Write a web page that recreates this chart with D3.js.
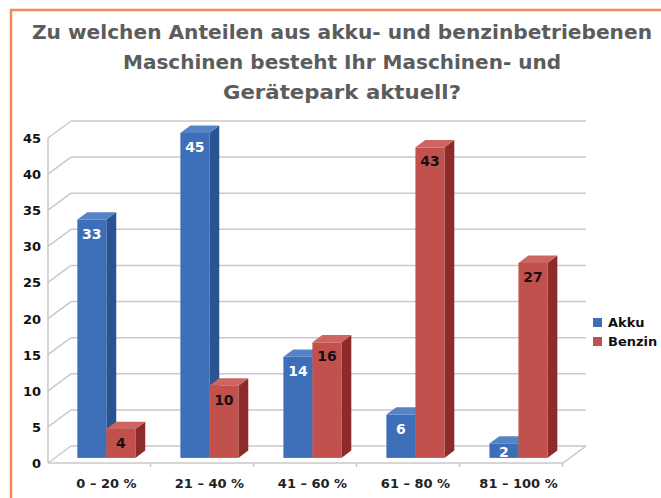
<!DOCTYPE html>
<html>
<head>
<meta charset="utf-8">
<script src="https://cdn.jsdelivr.net/npm/d3@7"></script>
<style>
  body { margin: 0; background: #fff; }
  svg { display: block; font-family: "DejaVu Sans", sans-serif; }
</style>
</head>
<body>
<svg id="chart" width="661" height="498"></svg>
<script>
const categories = ['0 – 20 %', '21 – 40 %', '41 – 60 %', '61 – 80 %', '81 – 100 %'];
const seriesNames = ['Akku', 'Benzin'];
const akku = [33, 45, 14, 6, 2];
const benzin = [4, 10, 16, 43, 27];
const yTicks = [0, 5, 10, 15, 20, 25, 30, 35, 40, 45];
const titleLines = [
  'Zu welchen Anteilen aus akku- und benzinbetriebenen',
  'Maschinen besteht Ihr Maschinen- und',
  'Gerätepark aktuell?'
];

const colors = {
  Akku: { front: '#3d6fb8', side: '#2b5391', top: '#5484c6', label: '#fff' },
  Benzin: { front: '#c2504d', side: '#8c2b29', top: '#cd6663', label: '#111' }
};

const svg = d3.select('#chart');

// orange frame
svg.append('rect')
  .attr('x', 11).attr('y', 10)
  .attr('width', 700).attr('height', 520)
  .attr('fill', '#fff')
  .attr('stroke', '#f08c5c')
  .attr('stroke-width', 2.5);

// title
const titleWidths = [620, 438, 238];
svg.append('g').selectAll('text')
  .data(titleLines)
  .join('text')
  .attr('x', 342)
  .attr('y', (d, i) => 39 + i * 30)
  .attr('text-anchor', 'middle')
  .attr('font-size', 19)
  .attr('font-weight', 'bold')
  .attr('fill', '#5c5c5c')
  .attr('textLength', (d, i) => titleWidths[i])
  .attr('lengthAdjust', 'spacingAndGlyphs')
  .text(d => d);

// plot geometry (oblique 3d)
const left = 48, right = 563, floorY = 463;
const depth = { dx: 23, dy: -17 };

const y = d3.scaleLinear().domain([0, 45]).range([0, 325]);
const x0 = d3.scaleBand().domain(categories).range([left, right])
  .paddingInner(0.437).paddingOuter(0.218);
const x1 = d3.scaleBand().domain(seriesNames).range([0, x0.bandwidth()]);

const grid = svg.append('g').attr('stroke', '#c9c9c9').attr('stroke-width', 1.5).attr('fill', 'none');

// back wall gridlines and left wall diagonals
yTicks.forEach(v => {
  const yf = floorY - y(v);
  const yb = yf + depth.dy;
  grid.append('line')
    .attr('x1', left + depth.dx).attr('y1', yb)
    .attr('x2', right + depth.dx).attr('y2', yb);
  grid.append('line')
    .attr('x1', left).attr('y1', yf)
    .attr('x2', left + depth.dx).attr('y2', yb);
});
// left axis
grid.append('line')
  .attr('x1', left).attr('y1', floorY)
  .attr('x2', left).attr('y2', floorY - y(45));
// floor front + right edge
grid.append('path')
  .attr('d', `M${left},${floorY}H${right}l${depth.dx},${depth.dy}`);
// category ticks
x0.domain().forEach((c, i) => {
  const xt = left + x0.step() * (i + 1) - 0.5;
  grid.append('line')
    .attr('x1', xt).attr('y1', floorY)
    .attr('x2', xt).attr('y2', floorY + 4);
});

// y labels
svg.append('g').selectAll('text')
  .data(yTicks)
  .join('text')
  .attr('x', 41)
  .attr('y', d => floorY - y(d) + 5)
  .attr('text-anchor', 'end')
  .attr('font-size', 13)
  .attr('font-weight', 'bold')
  .attr('fill', '#111')
  .text(d => d);

// category labels
svg.append('g').selectAll('text')
  .data(categories)
  .join('text')
  .attr('x', d => x0(d) + x0.bandwidth() / 2 + 7)
  .attr('y', 488)
  .attr('text-anchor', 'middle')
  .attr('font-size', 13)
  .attr('font-weight', 'bold')
  .attr('fill', '#222')
  .text(d => d);

// bars
const t0 = 0.3, t1 = 0.73;
const ox = depth.dx * t0, oy = depth.dy * t0;
const bdx = depth.dx * (t1 - t0), bdy = depth.dy * (t1 - t0);

const bars = [];
categories.forEach((c, i) => {
  bars.push({ cat: c, s: 'Akku', v: akku[i] });
  bars.push({ cat: c, s: 'Benzin', v: benzin[i] });
});

const barG = svg.append('g');
bars.forEach(b => {
  const bx = x0(b.cat) + x1(b.s) + ox;
  const bw = x1.bandwidth();
  const by = floorY + oy;
  const h = y(b.v);
  const top = by - h;
  const col = colors[b.s];
  const g = barG.append('g');
  g.append('path')
    .attr('d', `M${bx + bw},${top}l${bdx},${bdy}V${by + bdy}l${-bdx},${-bdy}Z`)
    .attr('fill', col.side);
  g.append('path')
    .attr('d', `M${bx},${top}l${bdx},${bdy}h${bw}l${-bdx},${-bdy}Z`)
    .attr('fill', col.top);
  g.append('rect')
    .attr('x', bx).attr('y', top)
    .attr('width', bw).attr('height', h)
    .attr('fill', col.front);
  g.append('text')
    .attr('x', bx + bw / 2)
    .attr('y', Math.min(top + 14, (top + by) / 2 + 1))
    .attr('dy', '0.36em')
    .attr('text-anchor', 'middle')
    .attr('font-size', 14)
    .attr('font-weight', 'bold')
    .attr('fill', col.label)
    .text(b.v);
});

// legend
const legend = svg.append('g').attr('transform', 'translate(593,318)');
seriesNames.forEach((s, i) => {
  legend.append('rect')
    .attr('x', 0).attr('y', i * 19)
    .attr('width', 9).attr('height', 9)
    .attr('fill', colors[s].front);
  legend.append('text')
    .attr('x', 15).attr('y', i * 19 + 9)
    .attr('font-size', 13)
    .attr('font-weight', 'bold')
    .attr('fill', '#111')
    .text(s);
});
</script>
</body>
</html>
